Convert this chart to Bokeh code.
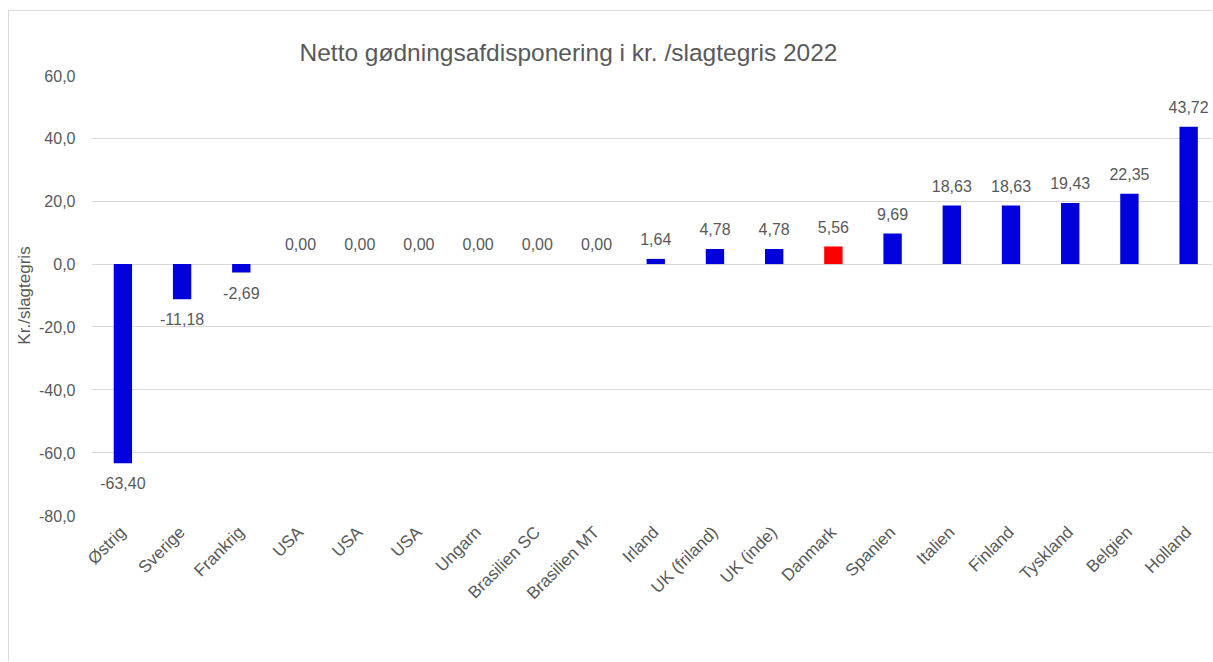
from bokeh.plotting import figure
from bokeh.models import (ColumnDataSource, FixedTicker, CustomJSTickFormatter,
                          Title, Range1d)
from bokeh.core.properties import value
from bokeh.embed import file_html
from bokeh.resources import INLINE
import math

countries = ["Østrig", "Sverige", "Frankrig", "USA", "USA", "USA", "Ungarn",
             "Brasilien SC", "Brasilien MT", "Irland", "UK (friland)", "UK (inde)",
             "Danmark", "Spanien", "Italien", "Finland", "Tyskland", "Belgien", "Holland"]
values = [-63.40, -11.18, -2.69, 0.00, 0.00, 0.00, 0.00, 0.00, 0.00, 1.64, 4.78, 4.78,
          5.56, 9.69, 18.63, 18.63, 19.43, 22.35, 43.72]
highlight = "Danmark"
y_ticks = [-80, -60, -40, -20, 0, 20, 40, 60]

FONT = "Liberation Sans"
GREY = "#595959"
BLUE = "#0000DD"
RED = "#FF0000"

xs = list(range(len(countries)))
colors = [RED if c == highlight else BLUE for c in countries]
labels = [f"{v:.2f}".replace(".", ",") for v in values]
offsets = [-20 if v >= 0 else 20 for v in values]

src = ColumnDataSource(dict(x=xs, top=values, color=colors, label=labels, off=offsets))

p = figure(width=1204, height=651, output_backend="svg", toolbar_location=None,
           x_range=Range1d(-0.53, 18.42), y_range=Range1d(-80, 60),
           min_border_left=82, min_border_right=0, min_border_top=64,
           min_border_bottom=147)
p.styles = {"margin-left": "8px", "margin-top": "10px",
            "border-left": "1px solid #d9d9d9", "border-top": "1px solid #d9d9d9"}
p.outline_line_color = None
p.background_fill_color = "white"
p.border_fill_color = "white"

t = Title(text="Netto gødningsafdisponering i kr. /slagtegris 2022", align="left",
          offset=208, text_font=FONT, text_font_size="24.5px", text_color=GREY,
          text_font_style="normal", standoff=19)
p.add_layout(t, "above")

p.vbar(x="x", top="top", bottom=0, width=0.31, color="color", line_color=None, source=src)
p.text(x="x", y="top", text="label", y_offset="off", source=src,
       text_font=value(FONT), text_font_size="16px", text_color=GREY,
       text_align="center", text_baseline="middle")

p.xgrid.grid_line_color = None
p.ygrid.grid_line_color = "#d9d9d9"
p.ygrid.grid_line_width = 1
p.yaxis.ticker = FixedTicker(ticks=y_ticks)
p.yaxis.formatter = CustomJSTickFormatter(code="return tick.toFixed(1).replace('.', ',');")
p.yaxis.axis_line_color = None
p.yaxis.major_tick_line_color = None
p.yaxis.minor_tick_line_color = None
p.yaxis.major_label_text_font = FONT
p.yaxis.major_label_text_font_size = "16px"
p.yaxis.major_label_text_color = GREY
p.yaxis.major_label_standoff = 10
p.yaxis.axis_label = "Kr./slagtegris"
p.yaxis.axis_label_text_font = FONT
p.yaxis.axis_label_text_font_size = "17px"
p.yaxis.axis_label_text_font_style = "normal"
p.yaxis.axis_label_text_color = GREY
p.yaxis.axis_label_standoff = 2

p.xaxis.ticker = FixedTicker(ticks=xs)
p.xaxis.major_label_overrides = {i: c for i, c in enumerate(countries)}
p.xaxis.major_label_orientation = math.pi / 4
p.xaxis.axis_line_color = None
p.xaxis.major_tick_line_color = None
p.xaxis.minor_tick_line_color = None
p.xaxis.major_label_text_font = FONT
p.xaxis.major_label_text_font_size = "17px"
p.xaxis.major_label_text_color = GREY
p.xaxis.major_label_standoff = 8

open("out.html", "w").write(file_html(p, INLINE))
